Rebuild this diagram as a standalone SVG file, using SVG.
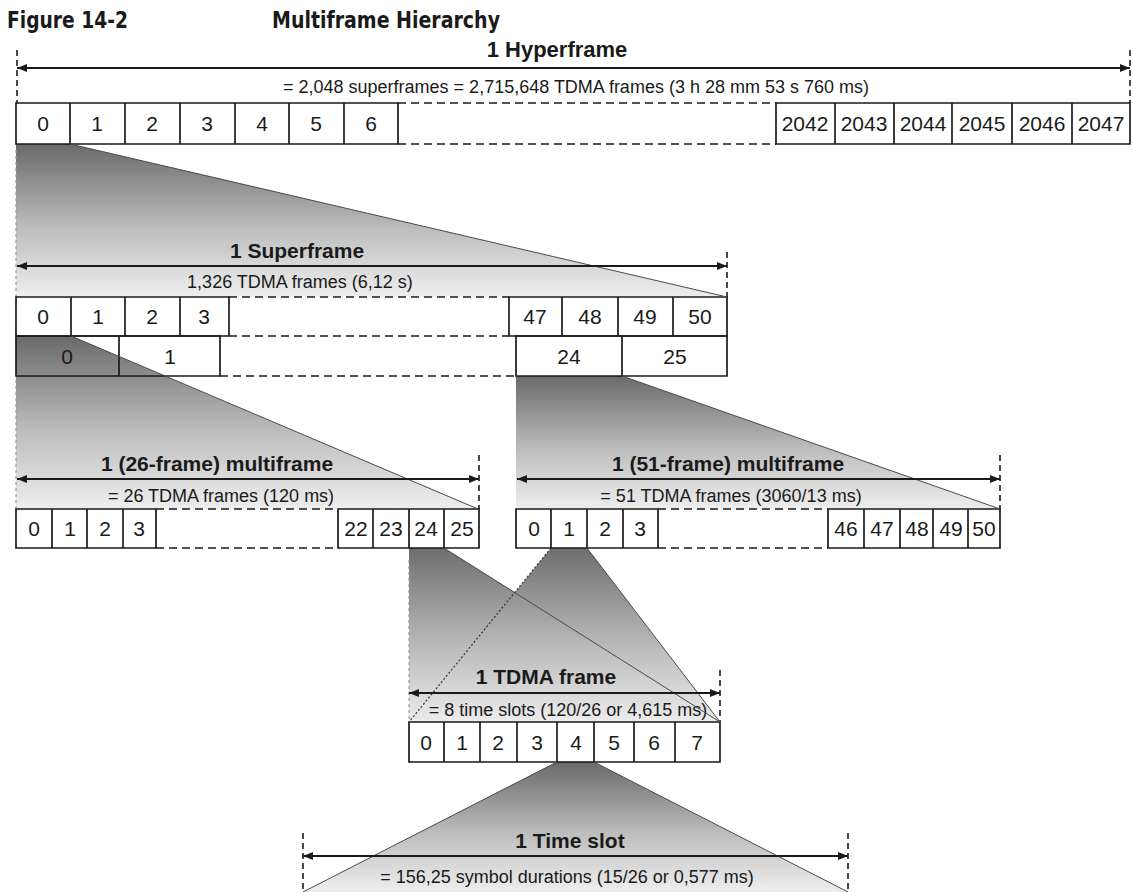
<svg xmlns="http://www.w3.org/2000/svg" width="1133" height="892" viewBox="0 0 1133 892">
<defs>
<linearGradient id="g1" x1="0" y1="0" x2="0" y2="1"><stop offset="0" stop-color="#6a6a6a"/><stop offset="0.55" stop-color="#bdbdbd"/><stop offset="1" stop-color="#eeeeee"/></linearGradient>
<linearGradient id="gTd" gradientUnits="userSpaceOnUse" x1="0" y1="548" x2="0" y2="722"><stop offset="0" stop-color="#6e6e6e"/><stop offset="0.55" stop-color="#b8b8b8"/><stop offset="1" stop-color="#ececec"/></linearGradient>
<marker id="ah" viewBox="0 0 10 8" refX="10" refY="4" markerWidth="10" markerHeight="8" markerUnits="userSpaceOnUse" orient="auto-start-reverse"><path d="M0,0 L10,4 L0,8 z" fill="#1a1a1a"/></marker>
<style>
.box{fill:none;stroke:#1a1a1a;stroke-width:1.7}
.dash{fill:none;stroke:#1a1a1a;stroke-width:1.7;stroke-dasharray:8 5}
.vd{stroke:#1a1a1a;stroke-width:1.6;stroke-dasharray:6 4}
.vdl{stroke:#999;stroke-width:1.2;stroke-dasharray:3 3}
.dim{stroke:#1a1a1a;stroke-width:2;marker-start:url(#ah);marker-end:url(#ah)}
.edge{stroke:#4a4a4a;stroke-width:1;fill:none}
.dot{stroke:#333;stroke-width:1.2;stroke-dasharray:2 2;fill:none}
text{font-family:"Liberation Sans",Arial,Helvetica,sans-serif;fill:#1a1a1a}
.num{font-size:21px;text-anchor:middle}
.lbl{font-size:21px;font-weight:bold;text-anchor:middle}
.sub{font-size:18px;text-anchor:middle}
.ttl{font-family:"Liberation Sans Narrow","DejaVu Sans Condensed","Liberation Sans",sans-serif;font-size:23px;font-weight:bold;font-stretch:condensed}
</style>
</defs>
<rect width="1133" height="892" fill="#fff"/>

<g id="fans">
<polygon points="16,144 70,144 727,297 16,297" fill="url(#g1)"/>
<polygon points="16,336 71,336 478,509 16,509" fill="url(#g1)"/>
<polygon points="516,376 622,376 1000,509 516,509" fill="url(#g1)"/>
<polygon points="409,548 444,548 720,722 409,722" fill="url(#gTd)"/>
<polygon points="551,548 587,548 720,722 409,722" fill="url(#gTd)"/>
<polygon points="557,762 594,762 848,892 303,892" fill="url(#g1)"/>
</g>

<g id="title">
<text class="ttl" x="7" y="28" textLength="121" lengthAdjust="spacingAndGlyphs">Figure 14-2</text>
<text class="ttl" x="272" y="28" textLength="228" lengthAdjust="spacingAndGlyphs">Multiframe Hierarchy</text>
</g>

<g id="hyperframe">
<text class="lbl" x="557" y="57" style="font-size:22px">1 Hyperframe</text>
<text class="sub" x="576" y="93">= 2,048 superframes = 2,715,648 TDMA frames (3 h 28 mm 53 s 760 ms)</text>
<line class="vd" x1="17" y1="50" x2="17" y2="103"/>
<line class="vd" x1="1130" y1="50" x2="1130" y2="103"/>
<path class="box" d="M16,103H398V144H16Z M70,103V144 M125,103V144 M180,103V144 M235,103V144 M289,103V144 M344,103V144"/>
<path class="dash" d="M398,103H776 M398,144H776"/>
<path class="box" d="M776,103H1130V144H776Z M835,103V144 M894,103V144 M952,103V144 M1012,103V144 M1072,103V144"/>
<text class="num" y="131"><tspan x="43">0</tspan><tspan x="97">1</tspan><tspan x="152">2</tspan><tspan x="207">3</tspan><tspan x="262">4</tspan><tspan x="316">5</tspan><tspan x="371">6</tspan><tspan x="805">2042</tspan><tspan x="864">2043</tspan><tspan x="923">2044</tspan><tspan x="982">2045</tspan><tspan x="1042">2046</tspan><tspan x="1101">2047</tspan></text>
</g>

<g id="superframe">
<text class="lbl" x="297" y="258">1 Superframe</text>
<text class="sub" x="300" y="288">1,326 TDMA frames (6,12 s)</text>
<line class="vdl" x1="16" y1="150" x2="16" y2="297"/>
<line class="vd" x1="727" y1="252" x2="727" y2="297"/>
<path class="box" d="M16,297H229V336H16Z M71,297V336 M125,297V336 M180,297V336"/>
<path class="dash" d="M229,297H509 M229,336H509"/>
<path class="box" d="M509,297H727V336H509Z M562,297V336 M618,297V336 M673,297V336"/>
<text class="num" y="324"><tspan x="43">0</tspan><tspan x="98">1</tspan><tspan x="152">2</tspan><tspan x="204">3</tspan><tspan x="535">47</tspan><tspan x="590">48</tspan><tspan x="645">49</tspan><tspan x="700">50</tspan></text>
<path class="box" d="M16,336H220V376H16Z M119,336V376"/>
<path class="dash" d="M220,376H516"/>
<path class="box" d="M516,336H727V376H516Z M622,336V376"/>
<text class="num" y="364"><tspan x="67">0</tspan><tspan x="170">1</tspan><tspan x="569">24</tspan><tspan x="675">25</tspan></text>
</g>

<g id="multiframe26">
<text class="lbl" x="217" y="471">1 (26-frame) multiframe</text>
<text class="sub" x="221" y="502">= 26 TDMA frames (120 ms)</text>
<line class="vdl" x1="16" y1="380" x2="16" y2="509"/>
<line class="vd" x1="479" y1="455" x2="479" y2="509"/>
<path class="box" d="M16,509H156V548H16Z M52,509V548 M87,509V548 M123,509V548"/>
<path class="dash" d="M156,509H338 M156,548H338"/>
<path class="box" d="M338,509H479V548H338Z M373,509V548 M409,509V548 M444,509V548"/>
<text class="num" y="536"><tspan x="34">0</tspan><tspan x="70">1</tspan><tspan x="105">2</tspan><tspan x="139">3</tspan><tspan x="356">22</tspan><tspan x="391">23</tspan><tspan x="426">24</tspan><tspan x="462">25</tspan></text>
</g>

<g id="multiframe51">
<text class="lbl" x="728" y="471">1 (51-frame) multiframe</text>
<text class="sub" x="731" y="502">= 51 TDMA frames (3060/13 ms)</text>
<line class="vd" x1="1000" y1="455" x2="1000" y2="509"/>
<path class="box" d="M516,509H658V548H516Z M551,509V548 M587,509V548 M623,509V548"/>
<path class="dash" d="M658,509H828 M658,548H828"/>
<path class="box" d="M828,509H1000V548H828Z M864,509V548 M900,509V548 M933,509V548 M968,509V548"/>
<text class="num" y="536"><tspan x="534">0</tspan><tspan x="569">1</tspan><tspan x="605">2</tspan><tspan x="640">3</tspan><tspan x="846">46</tspan><tspan x="882">47</tspan><tspan x="917">48</tspan><tspan x="951">49</tspan><tspan x="984">50</tspan></text>
</g>

<g id="tdmaframe">
<text class="lbl" x="546" y="684">1 TDMA frame</text>
<text class="sub" x="568" y="716">= 8 time slots (120/26 or 4,615 ms)</text>
<line class="vdl" x1="409" y1="560" x2="409" y2="722"/>
<line class="vd" x1="720" y1="670" x2="720" y2="722"/>
<path class="box" d="M409,722H720V762H409Z M444,722V762 M480,722V762 M517,722V762 M557,722V762 M594,722V762 M634,722V762 M675,722V762"/>
<text class="num" y="750"><tspan x="426">0</tspan><tspan x="462">1</tspan><tspan x="498">2</tspan><tspan x="537">3</tspan><tspan x="576">4</tspan><tspan x="614">5</tspan><tspan x="654">6</tspan><tspan x="697">7</tspan></text>
</g>

<g id="timeslot">
<text class="lbl" x="570" y="848">1 Time slot</text>
<text class="sub" x="567" y="883">= 156,25 symbol durations (15/26 or 0,577 ms)</text>
<line class="vd" x1="303" y1="833" x2="303" y2="892"/>
<line class="vd" x1="848" y1="833" x2="848" y2="892"/>
</g>

<g id="connectors">
<line class="edge" x1="70" y1="144" x2="727" y2="297"/>
<line class="edge" x1="71" y1="336" x2="478" y2="509"/>
<line class="edge" x1="622" y1="376" x2="1000" y2="509"/>
<line class="edge" x1="444" y1="548" x2="720" y2="722"/>
<line class="dot" x1="551" y1="548" x2="409" y2="722"/>
<line class="edge" x1="587" y1="548" x2="720" y2="722"/>
<line class="edge" x1="557" y1="762" x2="303" y2="892"/>
<line class="edge" x1="594" y1="762" x2="848" y2="892"/>
<line class="dim" x1="17" y1="68" x2="1130" y2="68"/>
<line class="dim" x1="17" y1="266" x2="727" y2="266"/>
<line class="dim" x1="17" y1="479" x2="479" y2="479"/>
<line class="dim" x1="517" y1="479" x2="1000" y2="479"/>
<line class="dim" x1="409" y1="693" x2="720" y2="693"/>
<line class="dim" x1="303" y1="856" x2="848" y2="856"/>
</g>
</svg>
